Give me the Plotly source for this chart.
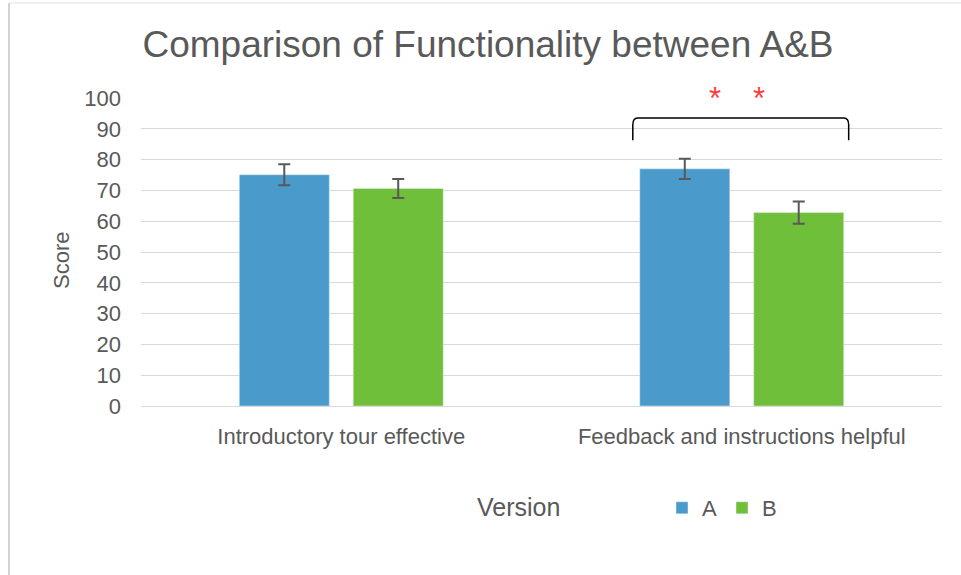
import plotly.graph_objects as go

# Survey results: mean score per item and version, with error bar half-widths
categories = ["Introductory tour effective", "Feedback and instructions helpful"]
score_a = [75.1, 77.0]
score_b = [70.6, 62.8]
err_a = [3.4, 3.3]
err_b = [3.1, 3.6]
y_ticks = [0, 10, 20, 30, 40, 50, 60, 70, 80, 90, 100]

BLUE = "#4A9BCB"
GREEN = "#70BF3A"
TEXT = "#595959"
FONT = "Liberation Sans, Arial, sans-serif"

W, H = 961, 575
ML, MR, MT, MB = 141, 19, 98, 169
PW, PH = W - ML - MR, H - MT - MB


def px_x(p):
    return (p - ML) / PW


def px_y(p):
    return 1 - (p - MT) / PH


err_style = dict(type="data", color=TEXT, thickness=2, width=6)

fig = go.Figure()
fig.add_bar(
    name="A", x=categories, y=score_a, marker_color=BLUE,
    error_y=dict(array=err_a, **err_style),
)
fig.add_bar(
    name="B", x=categories, y=score_b, marker_color=GREEN,
    error_y=dict(array=err_b, **err_style),
)

# Significance bracket over the second item
bx0, bx1 = 1 - 0.272, 1 + 0.267
ytop, ybot = 93.5, 86.3
r = 0.012
fig.add_shape(
    type="path", xref="x", yref="y",
    path=(f"M {bx0},{ybot} L {bx0},{ytop - 2.2} Q {bx0},{ytop} {bx0 + r},{ytop} "
          f"L {bx1 - r},{ytop} Q {bx1},{ytop} {bx1},{ytop - 2.2} L {bx1},{ybot}"),
    line=dict(color="black", width=1.5),
)
for xs in (1 - 0.068, 1 + 0.042):
    fig.add_annotation(
        x=xs, y=px_y(98), xref="x", yref="paper", text="*", showarrow=False,
        font=dict(family=FONT, size=31, color="#FF3B3B"),
        xanchor="center", yanchor="middle",
    )

# Chart frame lines
fig.add_shape(type="line", xref="paper", yref="paper",
              x0=px_x(9), x1=px_x(9), y0=px_y(3), y1=px_y(575),
              line=dict(color="#D4D4D4", width=2))
fig.add_shape(type="line", xref="paper", yref="paper",
              x0=px_x(9), x1=px_x(961), y0=px_y(3), y1=px_y(3),
              line=dict(color="#E0E0E0", width=1))

# Axis title and legend caption
fig.add_annotation(
    x=px_x(61), y=px_y(261), xref="paper", yref="paper", text="Score",
    textangle=-90, showarrow=False, xanchor="center", yanchor="middle",
    font=dict(family=FONT, size=22, color=TEXT),
)
fig.add_annotation(
    x=px_x(518), y=px_y(507), xref="paper", yref="paper", text="Version",
    showarrow=False, xanchor="center", yanchor="middle",
    font=dict(family=FONT, size=25, color=TEXT),
)

fig.update_layout(
    width=W, height=H,
    margin=dict(l=ML, r=MR, t=MT, b=MB),
    paper_bgcolor="white", plot_bgcolor="white",
    barmode="group", bargap=0.431, bargroupgap=0.21,
    title=dict(
        text="Comparison of Functionality between A&B",
        xref="container", x=488 / W, xanchor="center",
        yref="container", y=1 - 44 / H, yanchor="middle",
        font=dict(family=FONT, size=37, color=TEXT),
    ),
    font=dict(family=FONT, color=TEXT),
    showlegend=True,
    legend=dict(
        orientation="h", x=px_x(662), xanchor="left", y=px_y(508), yanchor="middle",
        font=dict(family=FONT, size=22, color=TEXT),
        itemwidth=30, traceorder="normal",
    ),
    xaxis=dict(
        showgrid=False, showline=True, linecolor="#D9D9D9", linewidth=1,
        tickfont=dict(family=FONT, size=22, color=TEXT), ticks="",
        ticklabelstandoff=11,
    ),
    yaxis=dict(
        range=[0, 100], tickvals=y_ticks, showgrid=True, gridcolor="#D9D9D9",
        gridwidth=1, zeroline=False, showline=False, ticks="",
        tickfont=dict(family=FONT, size=22, color=TEXT),
        ticklabelstandoff=19,
    ),
)

fig.write_html("out.html")
